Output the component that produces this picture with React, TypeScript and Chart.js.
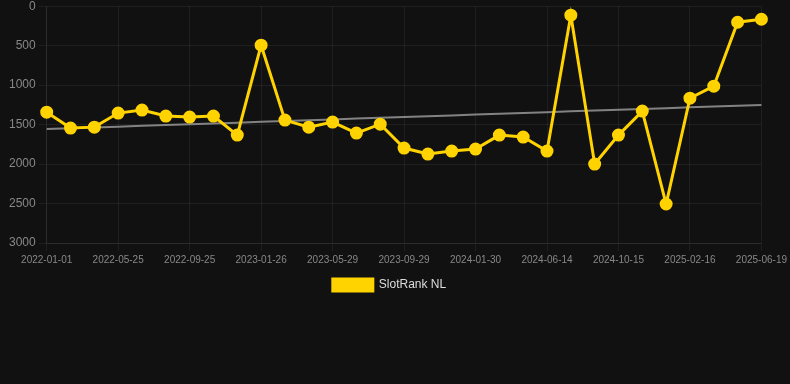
import React, { useEffect, useRef } from "react";
import { Chart, registerables } from "chart.js";

Chart.register(...registerables);

const labels: string[] = [
  "2022-01-01", "2022-02-18", "2022-04-07", "2022-05-25", "2022-07-05", "2022-08-15",
  "2022-09-25", "2022-11-05", "2022-12-16", "2023-01-26", "2023-03-08", "2023-04-18",
  "2023-05-29", "2023-07-09", "2023-08-19", "2023-09-29", "2023-11-09", "2023-12-20",
  "2024-01-30", "2024-03-15", "2024-04-30", "2024-06-14", "2024-07-25", "2024-09-04",
  "2024-10-15", "2024-11-25", "2025-01-05", "2025-02-16", "2025-03-29", "2025-05-09",
  "2025-06-19",
];

const rankValues: number[] = [
  1342, 1544, 1532, 1354, 1316, 1392, 1405, 1392, 1633, 494, 1443, 1532, 1468, 1608,
  1494, 1797, 1873, 1835, 1810, 1633, 1658, 1835, 114, 2000, 1633, 1329, 2506, 1165,
  1013, 203, 165,
];

const yTicks: number[] = [0, 500, 1000, 1500, 2000, 2500, 3000];

function linearTrend(values: number[]): number[] {
  const n = values.length;
  const mx = (n - 1) / 2;
  const my = values.reduce((a, b) => a + b, 0) / n;
  let num = 0;
  let den = 0;
  values.forEach((v, i) => {
    num += (i - mx) * (v - my);
    den += (i - mx) * (i - mx);
  });
  const slope = num / den;
  return values.map((_, i) => my + slope * (i - mx));
}

const FONT = "Liberation Sans, Arial, sans-serif";

export default function App() {
  const ref = useRef<HTMLCanvasElement | null>(null);

  useEffect(() => {
    document.body.style.margin = "0";
    document.body.style.background = "#111111";
    if (!ref.current) return;
    const trend = linearTrend(rankValues);
    const chart = new Chart(ref.current, {
      type: "line",
      data: {
        labels,
        datasets: [
          {
            label: "SlotRank NL",
            data: rankValues,
            borderColor: "#FFD300",
            backgroundColor: "#FFD300",
            borderWidth: 3,
            pointRadius: 5,
            pointHoverRadius: 5,
            pointBackgroundColor: "#FFD300",
            pointBorderColor: "#FFD300",
            tension: 0,
          },
          {
            label: "trend",
            data: trend,
            borderColor: "rgba(150,150,150,0.85)",
            borderWidth: 2,
            pointRadius: 0,
            fill: false,
          },
        ],
      },
      options: {
        animation: false,
        responsive: false,
        maintainAspectRatio: false,
        layout: { padding: { left: 6, right: 17 } },
        plugins: {
          legend: {
            position: "bottom",
            labels: {
              color: "#dddddd",
              font: { size: 12, family: FONT },
              boxWidth: 40,
              boxHeight: 12,
              filter: (item) => item.text !== "trend",
            },
          },
          tooltip: { enabled: false },
        },
        scales: {
          x: {
            grid: { color: "rgba(255,255,255,0.06)" },
            border: { color: "rgba(255,255,255,0.06)" },
            ticks: {
              color: "#888888",
              font: { size: 10, family: FONT },
              maxRotation: 0,
              autoSkip: true,
            },
          },
          y: {
            reverse: true,
            min: 0,
            max: 3000,
            afterBuildTicks: (axis) => {
              axis.ticks = yTicks.map((v) => ({ value: v }));
            },
            grid: { color: "rgba(255,255,255,0.06)" },
            border: { color: "rgba(255,255,255,0.06)" },
            ticks: {
              color: "#888888",
              font: { size: 12, family: FONT },
              callback: (v) => String(v),
            },
          },
        },
      },
    });
    return () => chart.destroy();
  }, []);

  return (
    <div style={{ width: 790, height: 384, background: "#111111", overflow: "hidden" }}>
      <canvas ref={ref} width={790} height={305} style={{ display: "block", marginTop: -4 }} />
    </div>
  );
}
